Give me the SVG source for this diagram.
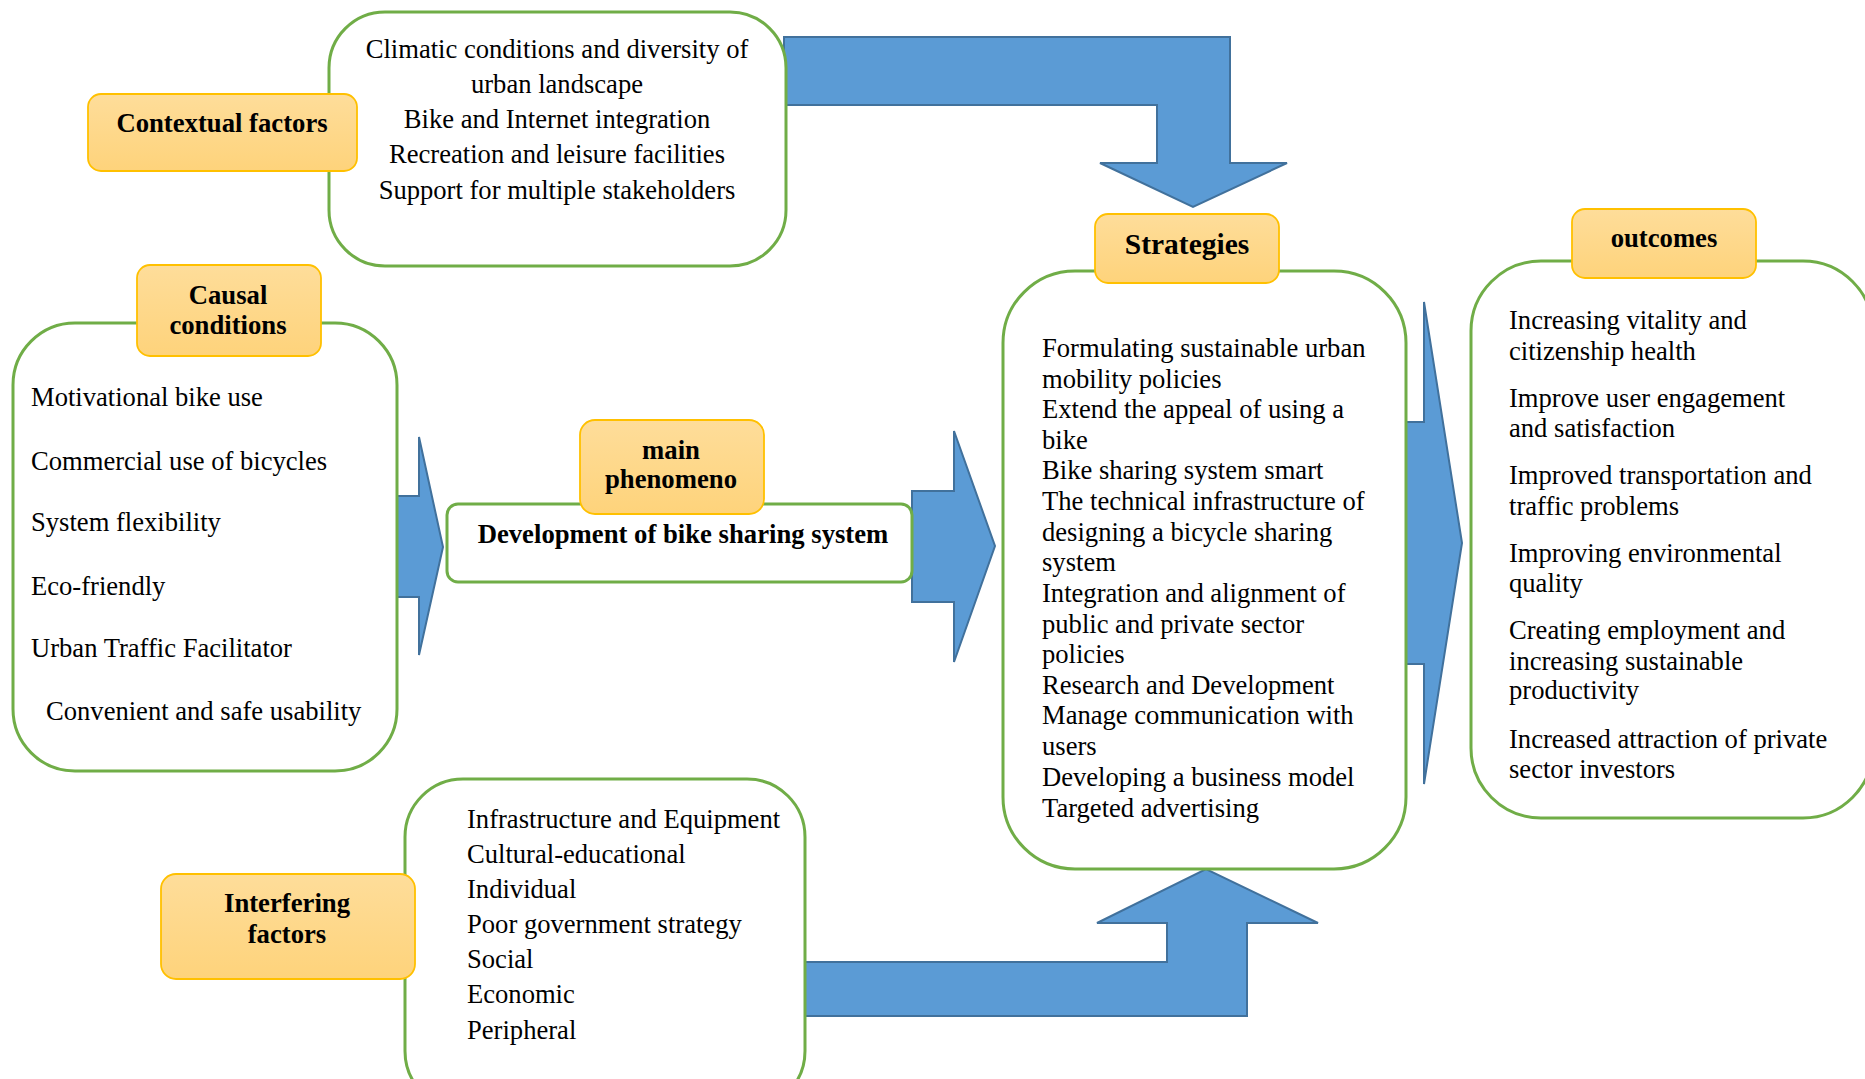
<svg xmlns="http://www.w3.org/2000/svg" width="1865" height="1079" viewBox="0 0 1865 1079">
  <defs>
    <linearGradient id="goldFill" x1="0" y1="0" x2="0" y2="1">
      <stop offset="0" stop-color="#FEDD9A"/>
      <stop offset="1" stop-color="#FED37B"/>
    </linearGradient>
    <style>
      .box { fill: #FFFFFF; stroke: #70AD47; stroke-width: 3; }
      .label { fill: url(#goldFill); stroke: #FFC000; stroke-width: 1.8; }
      .arrow { fill: #5B9BD5; stroke: #41719C; stroke-width: 2; stroke-linejoin: miter; }
      .txt { font-family: "Liberation Serif", "Times New Roman", serif; font-size: 26.6px; fill: #000000; }
      .hd { font-family: "Liberation Serif", "Times New Roman", serif; font-size: 26.7px; font-weight: bold; fill: #000000; }
      .mid { text-anchor: middle; }
    </style>
  </defs>
  <rect width="1865" height="1079" fill="#FFFFFF"/>

  <!-- block arrows between the groups -->
  <g id="connectors">
    <!-- contextual factors down into strategies -->
    <path class="arrow" d="M784,37 H1230 V163 H1287 L1193,207 L1100,163 H1157 V105 H784 Z"/>
    <!-- causal conditions to main phenomenon -->
    <path class="arrow" d="M396,496 H419 V437 L443,547 L419,655 V597 H396 Z"/>
    <!-- main phenomenon to strategies -->
    <path class="arrow" d="M912,491 H954 V431 L995,546 L954,662 V602 H912 Z"/>
    <!-- strategies to outcomes -->
    <path class="arrow" d="M1406,422 H1424 V302 L1462,543 L1424,784 V664 H1406 Z"/>
    <!-- interfering factors up into strategies -->
    <path class="arrow" d="M805,962 H1167 V923 H1097 L1206,869 L1318,923 H1247 V1016 H805 Z"/>
  </g>

  <g id="contextual">
    <rect class="box" x="329" y="12" width="457" height="254" rx="56"/>
    <text class="txt mid" x="557" y="58">Climatic conditions and diversity of</text>
    <text class="txt mid" x="557" y="93">urban landscape</text>
    <text class="txt mid" x="557" y="128">Bike and Internet integration</text>
    <text class="txt mid" x="557" y="163">Recreation and leisure facilities</text>
    <text class="txt mid" x="557" y="199">Support for multiple stakeholders</text>
    <rect class="label" x="88" y="94" width="269" height="77" rx="13"/>
    <text class="hd mid" x="222" y="132">Contextual factors</text>
  </g>

  <g id="causal">
    <rect class="box" x="13" y="323" width="384" height="448" rx="62"/>
    <text class="txt" x="31" y="406">Motivational bike use</text>
    <text class="txt" x="31" y="470">Commercial use of bicycles</text>
    <text class="txt" x="31" y="531">System flexibility</text>
    <text class="txt" x="31" y="595">Eco-friendly</text>
    <text class="txt" x="31" y="657">Urban Traffic Facilitator</text>
    <text class="txt" x="46" y="720">Convenient and safe usability</text>
    <rect class="label" x="137" y="265" width="184" height="91" rx="13"/>
    <text class="hd mid" x="228" y="304">Causal</text>
    <text class="hd mid" x="228" y="334">conditions</text>
  </g>

  <g id="phenomenon">
    <rect class="box" x="447" y="504" width="465" height="78" rx="11"/>
    <text class="hd mid" x="683" y="543">Development of bike sharing system</text>
    <rect class="label" x="580" y="420" width="184" height="94" rx="15"/>
    <text class="hd mid" x="671" y="459">main</text>
    <text class="hd mid" x="671" y="488">phenomeno</text>
  </g>

  <g id="strategies">
    <rect class="box" x="1003" y="271" width="403" height="598" rx="72"/>
    <text class="txt" x="1042" y="357">Formulating sustainable urban</text>
    <text class="txt" x="1042" y="388">mobility policies</text>
    <text class="txt" x="1042" y="418">Extend the appeal of using a</text>
    <text class="txt" x="1042" y="449">bike</text>
    <text class="txt" x="1042" y="479">Bike sharing system smart</text>
    <text class="txt" x="1042" y="510">The technical infrastructure of</text>
    <text class="txt" x="1042" y="541">designing a bicycle sharing</text>
    <text class="txt" x="1042" y="571">system</text>
    <text class="txt" x="1042" y="602">Integration and alignment of</text>
    <text class="txt" x="1042" y="633">public and private sector</text>
    <text class="txt" x="1042" y="663">policies</text>
    <text class="txt" x="1042" y="694">Research and Development</text>
    <text class="txt" x="1042" y="724">Manage communication with</text>
    <text class="txt" x="1042" y="755">users</text>
    <text class="txt" x="1042" y="786">Developing a business model</text>
    <text class="txt" x="1042" y="817">Targeted advertising</text>
    <rect class="label" x="1095" y="214" width="184" height="69" rx="13"/>
    <text class="hd mid" x="1187" y="254" style="font-size:29.5px">Strategies</text>
  </g>

  <g id="outcomes">
    <rect class="box" x="1471" y="261" width="402" height="557" rx="70"/>
    <text class="txt" x="1509" y="329">Increasing vitality and</text>
    <text class="txt" x="1509" y="360">citizenship health</text>
    <text class="txt" x="1509" y="407">Improve user engagement</text>
    <text class="txt" x="1509" y="437">and satisfaction</text>
    <text class="txt" x="1509" y="484">Improved transportation and</text>
    <text class="txt" x="1509" y="515">traffic problems</text>
    <text class="txt" x="1509" y="562">Improving environmental</text>
    <text class="txt" x="1509" y="592">quality</text>
    <text class="txt" x="1509" y="639">Creating employment and</text>
    <text class="txt" x="1509" y="670">increasing sustainable</text>
    <text class="txt" x="1509" y="699">productivity</text>
    <text class="txt" x="1509" y="748">Increased attraction of private</text>
    <text class="txt" x="1509" y="778">sector investors</text>
    <rect class="label" x="1572" y="209" width="184" height="69" rx="13"/>
    <text class="hd mid" x="1664" y="247">outcomes</text>
  </g>

  <g id="interfering">
    <rect class="box" x="405" y="779" width="400" height="330" rx="58"/>
    <text class="txt" x="467" y="828">Infrastructure and Equipment</text>
    <text class="txt" x="467" y="863">Cultural-educational</text>
    <text class="txt" x="467" y="898">Individual</text>
    <text class="txt" x="467" y="933">Poor government strategy</text>
    <text class="txt" x="467" y="968">Social</text>
    <text class="txt" x="467" y="1003">Economic</text>
    <text class="txt" x="467" y="1039">Peripheral</text>
    <rect class="label" x="161" y="874" width="254" height="105" rx="15"/>
    <text class="hd mid" x="287" y="912">Interfering</text>
    <text class="hd mid" x="287" y="943">factors</text>
  </g>
</svg>
